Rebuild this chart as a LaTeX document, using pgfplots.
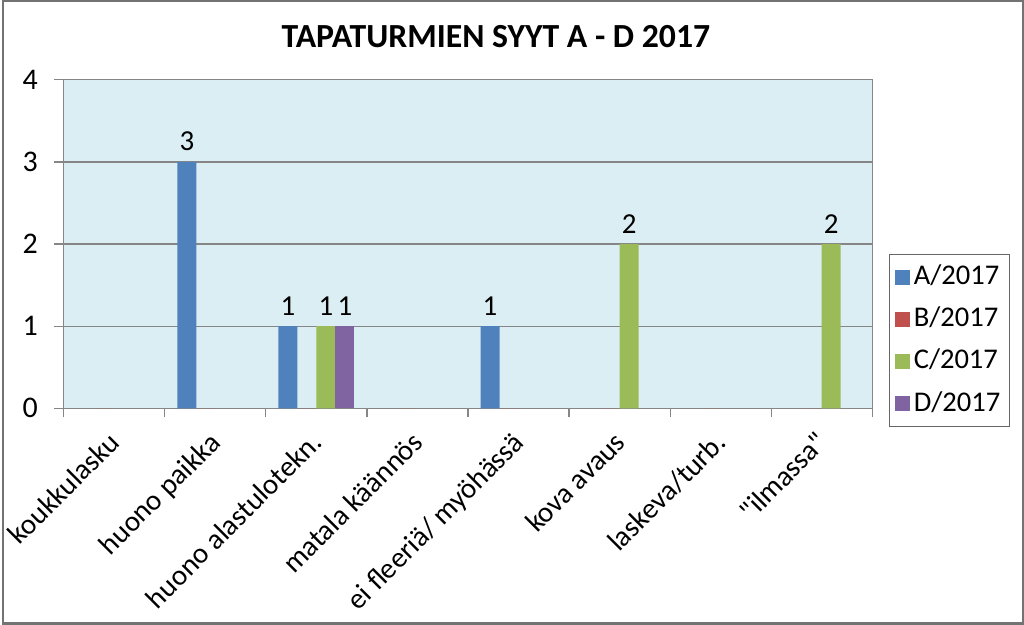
\documentclass[border=0pt]{standalone}
\usepackage{fontspec}
\setmainfont{Carlito}[Ligatures=TeXOff]
\usepackage{pgfplots}
\pgfplotsset{compat=1.18}
\definecolor{serA}{HTML}{4F81BD}
\definecolor{serB}{HTML}{C0504D}
\definecolor{serC}{HTML}{9BBB59}
\definecolor{serD}{HTML}{8064A2}
\definecolor{plotbg}{HTML}{DBEEF4}
\definecolor{axgray}{HTML}{868686}
\begin{document}
\begin{tikzpicture}
\fill[white] (0pt,0pt) rectangle (512pt,313pt);
\draw[black!55, line width=1.2pt] (0.6pt,0.6pt) rectangle (511.4pt,312.4pt);
\node[font=\fontsize{16.9}{20}\selectfont\bfseries] at (247.5pt,294.5pt) {TAPATURMIEN SYYT A - D 2017};
\begin{axis}[
  at={(31pt,108.5pt)}, anchor=south west, scale only axis,
  width=405pt, height=164.5pt,
  xmin=-0.5, xmax=7.5, ymin=0, ymax=4,
  ybar=0pt, bar width=0.1877,
  /pgf/number format/assume math mode=true,
  font=\fontsize{14.5}{17}\selectfont,
  ticklabel style={font=\fontsize{14.5}{17}\selectfont},
  axis background/.style={fill=plotbg},
  axis line style={axgray, line width=0.6pt},
  ymajorgrids, grid style={axgray, line width=0.6pt},
  ytick={0,1,2,3,4},
  ytick style={axgray, line width=0.6pt},
  tick pos=left,
  tick align=outside, major tick length=5pt,
  yticklabel style={font=\fontsize{15}{17}\selectfont, xshift=-4.5pt},
  xtick={0,1,2,3,4,5,6,7},
  xticklabels={koukkulasku, huono paikka, huono alastulotekn., matala käännös, ei fleeriä/ myöhässä, kova avaus, laskeva/turb., "ilmassa"},
  xtick style={draw=none},
  xticklabel style={rotate=45, anchor=north east, inner sep=2pt, xshift=-4.5pt, yshift=0.5pt},
  extra x ticks={-0.5,0.5,1.5,2.5,3.5,4.5,5.5,6.5,7.5},
  extra x tick labels={},
  extra x tick style={xtick style={draw=axgray, line width=0.6pt}, major tick length=4.5pt, tick align=outside, grid=none},
  every node near coord/.append style={font=\fontsize{14.5}{17}\selectfont, black, yshift=2pt},
  legend image code/.code={\fill[#1] (0pt,-3.75pt) rectangle (7.5pt,3.75pt);},
  legend cell align=left,
  legend style={at={(1.021,0.4711)}, anchor=north west, draw=black!60, line width=0.6pt,
    font=\fontsize{14.3}{17}\selectfont,
    nodes={text height=10pt, text depth=2.5pt, inner ysep=4.3pt},
    inner xsep=2.5pt, inner ysep=1pt},
]
\addplot[fill=serA, draw=none, nodes near coords] coordinates {(1,3) (2,1) (4,1)};
\addplot[fill=serB, draw=none] coordinates {(0,0) (1,0) (2,0) (3,0) (4,0) (5,0) (6,0) (7,0)};
\addplot[fill=serC, draw=none, nodes near coords] coordinates {(2,1) (5,2) (7,2)};
\addplot[fill=serD, draw=none, nodes near coords] coordinates {(2,1)};
\legend{A/2017, B/2017, C/2017, D/2017}
\end{axis}
\end{tikzpicture}
\end{document}
